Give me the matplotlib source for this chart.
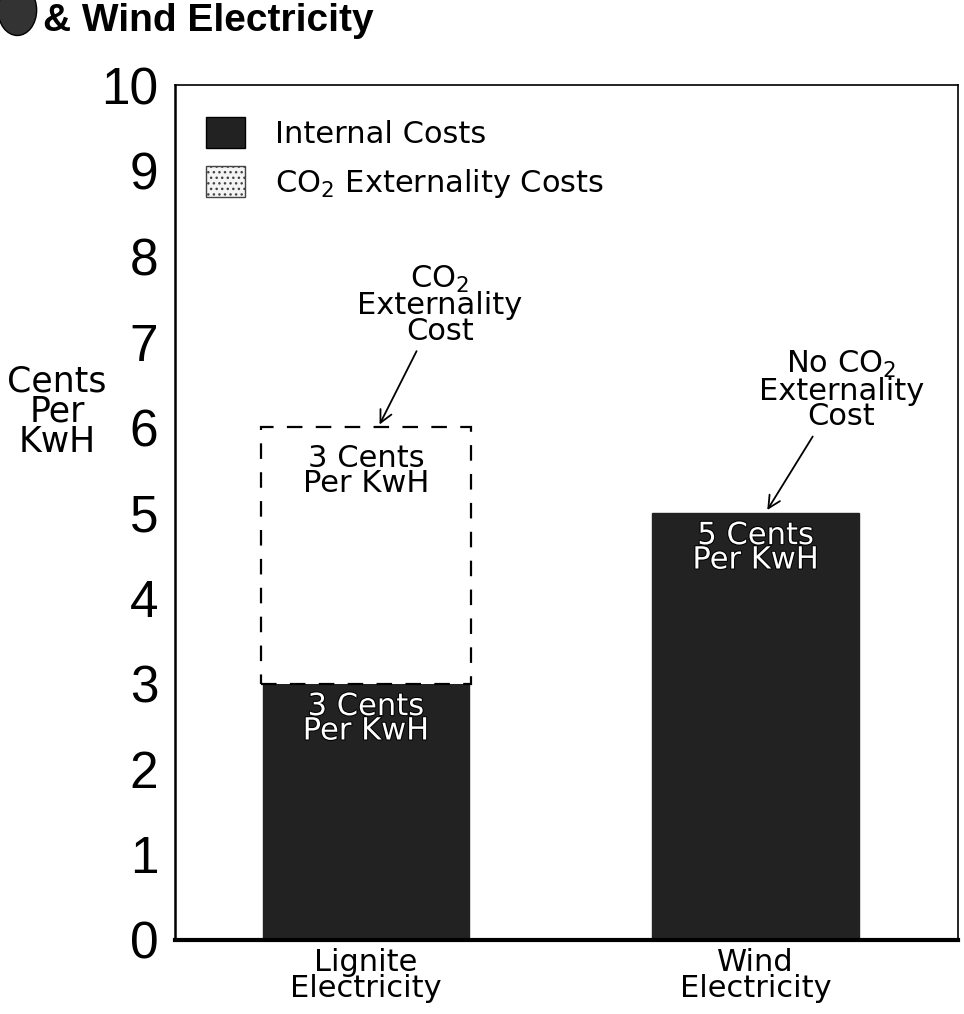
import matplotlib.pyplot as plt
import matplotlib.patheffects as pe
from matplotlib.patches import Patch, Ellipse

categories = ['Lignite\nElectricity', 'Wind\nElectricity']
internal_costs = [3, 5]
co2_costs = [3, 0]
yticks = list(range(0, 11))

dark = '#222222'
sans = ['DejaVu Sans']
digits = ['Liberation Sans', 'DejaVu Sans']

fig = plt.figure(figsize=(9.64, 10.14), dpi=100)
ax = fig.add_axes([0.1815, 0.073, 0.8125, 0.843])

x = list(range(len(categories)))
ax.bar(x, internal_costs, width=0.53, color=dark, edgecolor=dark, zorder=2)

# dashed box for the CO2 externality cost, only where there is one
xs = [xi for xi, c in zip(x, co2_costs) if c > 0]
hs = [c for c in co2_costs if c > 0]
bs = [b for b, c in zip(internal_costs, co2_costs) if c > 0]
ax.bar(xs, hs, bottom=bs, width=0.54, facecolor='white', edgecolor='black',
       linestyle=(0, (7, 6)), linewidth=1.6, zorder=2)

ax.set_xlim(-0.49, 1.52)
ax.set_ylim(0, 10)
ax.set_yticks(yticks)
ax.set_yticklabels([str(t) for t in yticks], fontsize=37, family=digits)
ax.set_xticks(x)
ax.set_xticklabels(categories, fontsize=22, family=sans, linespacing=0.85)
ax.tick_params(axis='y', length=0, pad=12)
ax.tick_params(axis='x', length=0, pad=6)
for s in ['top', 'right']:
    ax.spines[s].set_linewidth(1.2)
ax.spines['left'].set_linewidth(1.8)
ax.spines['bottom'].set_linewidth(3)

# labels inside the bars
for xi, v in zip(x, internal_costs):
    ax.text(xi, v - 0.1, f'{v} Cents\nPer KwH', ha='center', va='top', color='white',
            fontsize=22, family=sans, linespacing=0.8, zorder=3,
            path_effects=[pe.withStroke(linewidth=1.5, foreground='black')])
for xi, b, c in zip(x, internal_costs, co2_costs):
    if c > 0:
        ax.text(xi, b + c - 0.2, f'{c} Cents\nPer KwH', ha='center', va='top',
                color='black', fontsize=22, family=sans, linespacing=0.8, zorder=3)

ax.annotate('CO$_2$\nExternality\nCost', xy=(0.035, 6.03), xytext=(0.19, 6.95),
            ha='center', va='bottom', fontsize=22, family=sans, linespacing=0.85,
            arrowprops=dict(arrowstyle='->', color='black', lw=1.3, shrinkA=2, shrinkB=0))
ax.annotate('No CO$_2$\nExternality\nCost', xy=(1.03, 5.03), xytext=(1.22, 5.95),
            ha='center', va='bottom', fontsize=22, family=sans, linespacing=0.85,
            arrowprops=dict(arrowstyle='->', color='black', lw=1.3, shrinkA=2, shrinkB=0))

handles = [Patch(facecolor=dark, edgecolor='black', label='Internal Costs'),
           Patch(facecolor='#f4f4f4', edgecolor='#444444', hatch='...',
                 label='CO$_2$ Externality Costs')]
ax.legend(handles=handles, loc='upper left', bbox_to_anchor=(0.005, 0.995), frameon=False,
          prop={'family': sans, 'size': 22}, handlelength=1.25, handleheight=1.2,
          handletextpad=1.0, labelspacing=0.55)

fig.text(0.059, 0.594, 'Cents\nPer\nKwH', ha='center', va='center', fontsize=25,
         family=sans, linespacing=0.85)
fig.text(0.045, 0.997, '& Wind Electricity', ha='left', va='top', fontsize=28,
         fontweight='bold', family=digits)
fig.patches.append(Ellipse((0.018, 0.99), 0.04, 0.05, transform=fig.transFigure,
                           facecolor='#333333', edgecolor='black'))

fig.savefig('out.png', dpi=100)
